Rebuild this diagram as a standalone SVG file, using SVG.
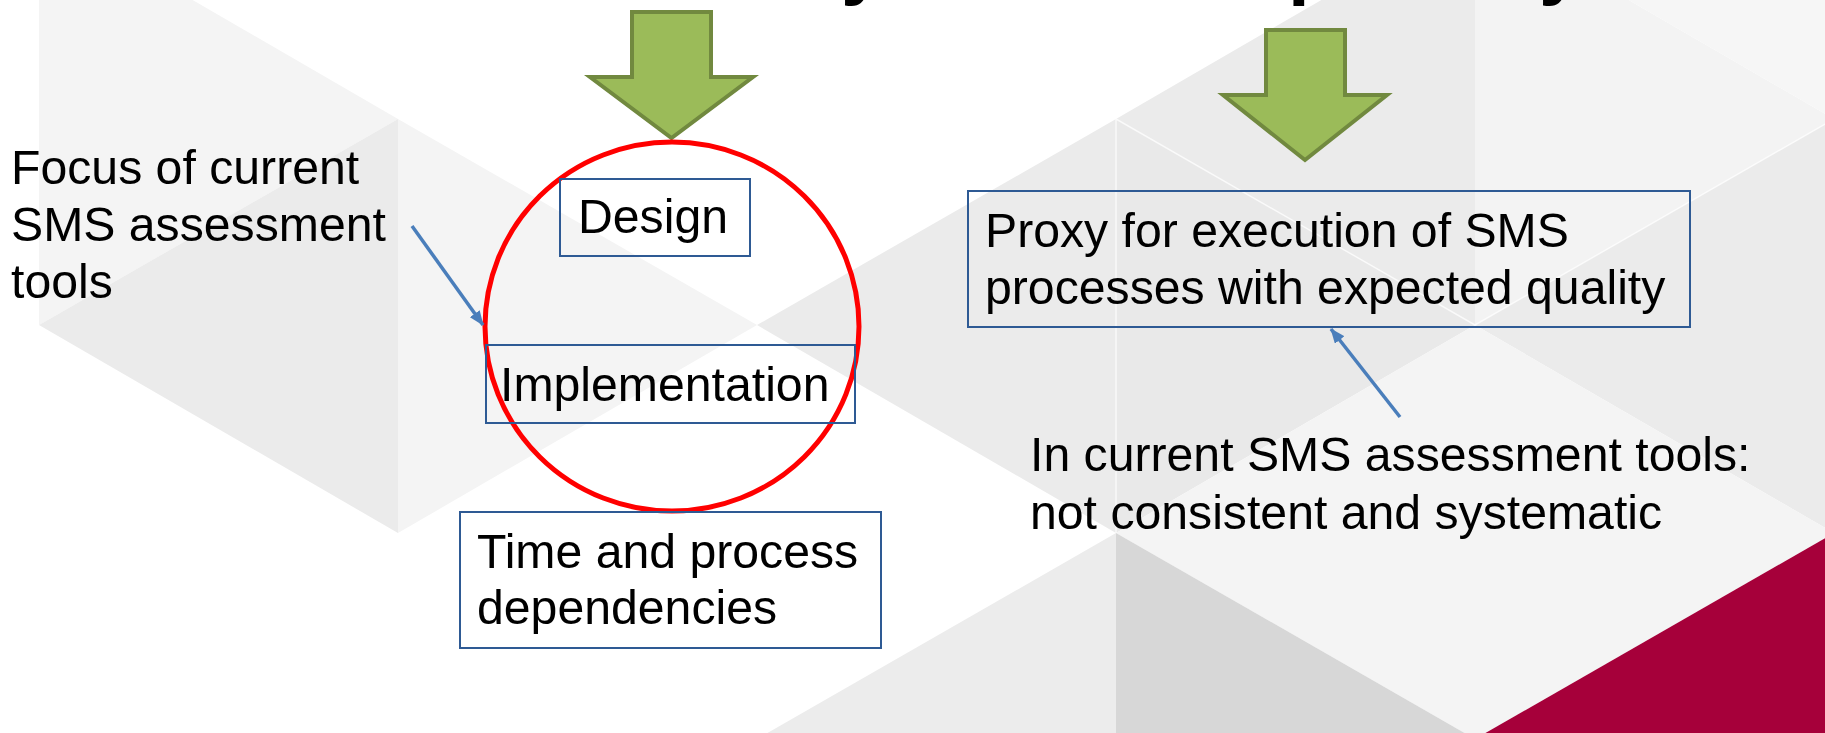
<svg xmlns="http://www.w3.org/2000/svg" width="1825" height="733" viewBox="0 0 1825 733">
  <defs>
    <style>
      .lbl { font-family: "Liberation Sans", Arial, sans-serif; font-size: 48.2px; fill: #000; }
      .ttl { font-family: "Liberation Sans", Arial, sans-serif; font-size: 78px; font-weight: bold; fill: #000; }
      .box { fill: none; stroke: #2e5a94; stroke-width: 2; }
      .garrow { fill: #9bbb59; stroke: #71893f; stroke-width: 4; stroke-linejoin: miter; }
      .conn { stroke: #4a7ebb; stroke-width: 3.5; fill: none; marker-end: url(#ah); }
      .bg-l { fill: #f4f4f4; }
      .bg-m { fill: #ebebeb; }
      .bg-d { fill: #d7d7d7; }
      .bg-r { fill: #a6003a; }
      .hl { stroke: #ffffff; stroke-width: 1.5; stroke-opacity: 0.7; fill: none; }
    </style>
    <marker id="ah" markerUnits="userSpaceOnUse" markerWidth="15" markerHeight="12" refX="14" refY="6" orient="auto">
      <path d="M0,0 L15,6 L0,12 z" fill="#4a7ebb"/>
    </marker>
  </defs>

  <!-- background -->
  <g id="background">
    <rect x="0" y="0" width="1825" height="733" fill="#ffffff"/>
    <polygon class="bg-l" points="39,-89 39,325 398,119"/>
    <polygon class="bg-m" points="398,119 398,533 39,325"/>
    <polygon class="bg-l" points="398,119 398,533 757,325"/>
    <polygon class="bg-m" points="1116,119 1116,533 757,325"/>
    <polygon class="bg-m" points="1116,533 1116,947 757,739" style="fill:#ececec"/>
    <polygon class="bg-m" points="1475,-89 1475,325 1116,119"/>
    <polygon class="bg-m" points="1116,119 1116,533 1475,325" style="fill:#e9e9e9"/>
    <polygon class="bg-l" points="1475,325 1475,739 1116,533"/>
    <polygon class="bg-d" points="1116,533 1116,947 1475,739"/>
    <polygon class="bg-l" points="1475,-89 1475,325 1834,119" style="fill:#f3f3f3"/>
    <polygon class="bg-l" points="1834,-295 1834,119 1475,-89" style="fill:#f6f6f6"/>
    <polygon class="bg-m" points="1834,119 1834,533 1475,325"/>
    <polygon class="bg-l" points="1475,325 1475,739 1834,533"/>
    <polygon class="bg-r" points="1834,533 1834,947 1475,739"/>
    <path class="hl" d="M1116,119 L1475,325 M1116,119 L1116,533 M1475,325 L1834,119"/>
  </g>

  <!-- partial title (only descenders visible) -->
  <g id="title">
    <text class="ttl" x="841" y="-10">y</text>
    <text class="ttl" x="1288" y="-10">p</text>
    <text class="ttl" x="1539" y="-10">y</text>
  </g>

  <g id="arrow-left">
    <polygon class="garrow" points="632,12 711,12 711,77 753,77 671.5,138 590,77 632,77"/>
  </g>
  <g id="arrow-right">
    <polygon class="garrow" points="1266,30 1345,30 1345,95 1387,95 1305,160 1223,95 1266,95"/>
  </g>

  <g id="focus-ellipse">
    <ellipse cx="672" cy="326.5" rx="187" ry="184.5" fill="none" stroke="#ff0000" stroke-width="5"/>
  </g>

  <g id="focus-label">
    <text class="lbl" x="11" y="184">Focus of current</text>
    <text class="lbl" x="11" y="241">SMS assessment</text>
    <text class="lbl" x="11" y="298">tools</text>
  </g>

  <g id="design">
    <rect class="box" x="560" y="179" width="190" height="77"/>
    <text class="lbl" x="578" y="233">Design</text>
  </g>

  <g id="implementation">
    <rect class="box" x="486" y="345" width="369" height="78"/>
    <text class="lbl" x="500" y="401">Implementation</text>
  </g>

  <g id="time-process">
    <rect class="box" x="460" y="512" width="421" height="136"/>
    <text class="lbl" x="477" y="568">Time and process</text>
    <text class="lbl" x="477" y="624">dependencies</text>
  </g>

  <g id="proxy">
    <rect class="box" x="968" y="191" width="722" height="136"/>
    <text class="lbl" x="985" y="247">Proxy for execution of SMS</text>
    <text class="lbl" x="985" y="304">processes with expected quality</text>
  </g>

  <g id="current-tools-label">
    <text class="lbl" x="1030" y="471">In current SMS assessment tools:</text>
    <text class="lbl" x="1030" y="529">not consistent and systematic</text>
  </g>

  <g id="connectors">
    <line class="conn" x1="412" y1="226" x2="483" y2="325"/>
    <line class="conn" x1="1400" y1="417" x2="1331" y2="329"/>
  </g>
</svg>
